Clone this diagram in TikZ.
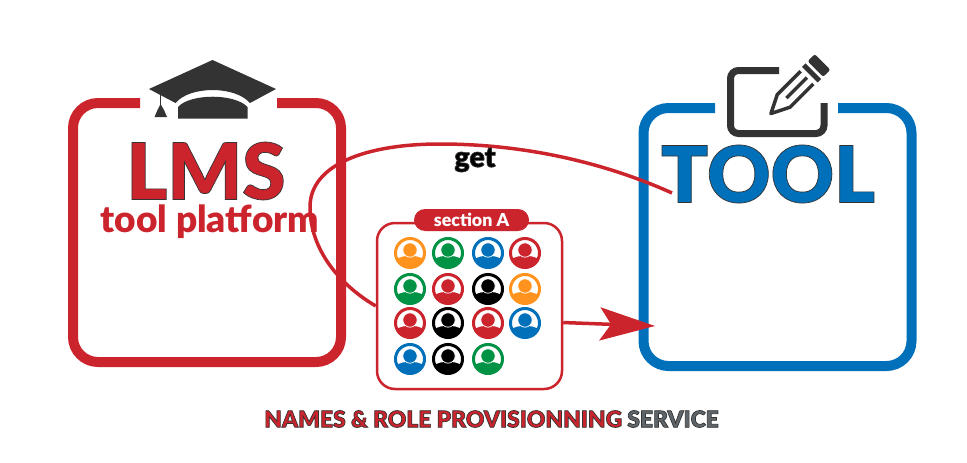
\documentclass[tikz,border=0pt]{standalone}
\usepackage{fontspec}
\setmainfont{Lato}
\newfontfamily\heavy{Lato Black}
\usetikzlibrary{arrows.meta}
\definecolor{lmsred}{HTML}{CC242D}
\definecolor{toolblue}{HTML}{0070BA}
\definecolor{iconblack}{HTML}{333333}
\definecolor{svcgray}{HTML}{5F666B}
\definecolor{pgreen}{HTML}{009245}
\definecolor{porange}{HTML}{FF931E}
\newcommand{\inked}[2]{\textcolor{#1}{\special{pdf:code q 2 Tr 0.7 w 0.2 0.2 0.2 RG}#2\special{pdf:code Q}}}
\tikzset{
  panel/.style={line width=10pt, rounded corners=25pt},
  title/.style={font=\heavy\fontsize{78}{78}\selectfont, inner sep=0pt},
  secbox/.style={draw=lmsred, line width=2.5pt, fill=white, rounded corners=18pt, minimum width=185pt, minimum height=166pt, inner sep=0pt},
  seclabel/.style={fill=lmsred, text=white, rounded corners=11pt, minimum width=115pt, minimum height=22pt, inner sep=0pt, font=\heavy\fontsize{17.8}{17.8}\selectfont},
  link/.style={draw=lmsred, line width=3.5pt},
  pics/person/.style={code={
    \draw[#1, line width=3pt, fill=white] (0,0) circle (14.5pt);
    \begin{scope}
      \clip (0,0) circle (15pt);
      \fill[#1] (-15,16) -- (-15,7) .. controls (-9,3) and (-5,3) .. (0,3) .. controls (5,3) and (9,3) .. (15,7) -- (15,16) -- cycle;
    \end{scope}
    \draw[fill=#1, draw=white, line width=0.7pt] (0,-3) circle (7.2pt);
  }},
}
\begin{document}
\begin{tikzpicture}[x=1pt, y=-1pt]
\useasboundingbox (0,0) rectangle (967,463);
% lms panel
\draw[lmsred, panel] (140,103) -- (73,103) -- (73,362) -- (341,362) -- (341,103) -- (277,103);
% tool panel
\draw[toolblue, panel] (715,108) -- (643.5,108) -- (643.5,366) -- (911.5,366) -- (911.5,108) -- (838,108);
% cap
\fill[iconblack] (212.5,60) -- (276,89) -- (250,103) .. controls (235,85.7) and (190,85.7) .. (175.5,103) -- (149,89) -- cycle;
\fill[iconblack] (178,118.5) -- (178,107) .. controls (190,93.3) and (235,93.3) .. (247.5,107) -- (247.5,118.5) -- cycle;
\draw[iconblack, line width=1.5pt] (160.5,94) -- (160.5,106);
\fill[iconblack] (160.5,104) -- (164,110) -- (167,117) -- (154.5,117) -- (157.5,110) -- cycle;
% edit icon
\draw[iconblack, line width=7pt, rounded corners=8pt] (779,70.5) -- (730.5,70.5) -- (730.5,133.5) -- (824,133.5) -- (824,103);
\begin{scope}[shift={(769.5,115)}, rotate=45]
  \draw[iconblack, line width=3.5pt, line join=round] (53,-9) -- (20,-9) -- (2,0) -- (20,9) -- (53,9);
  \draw[iconblack, line width=3.5pt] (24,0) -- (53,0);
  \fill[iconblack] (57,-11) rectangle (62,11);
  \fill[iconblack, rounded corners=2pt] (65,-11) rectangle (75,11);
\end{scope}
% titles
\node[title] (lms) at (206,171) {\inked{lmsred}{LMS}};
\node[font=\heavy\fontsize{37}{37}\selectfont, text=lmsred, inner sep=0pt] (platform) at (210,222) {tool platform};
\node[title] (tool) at (768,174) {\inked{toolblue}{TOOL}};
% section box
\node[secbox] (section) at (469.5,306) {};
\node[seclabel] (seclabel) at (471.5,220) {section A};
% people
\foreach \px/\py/\pc in {410/253/porange, 448/253/pgreen, 488/253/toolblue, 525/253/lmsred,
  410/289/pgreen, 448/289/lmsred, 488/289/black, 525/289/porange,
  410/323/lmsred, 448/323/black, 488/323/lmsred, 525/323/toolblue,
  410/359/toolblue, 448/359/black, 488/359/pgreen}
  \pic at (\px,\py) {person=\pc};
% connectors
\coordinate (toolin) at (672,193);
\coordinate (tooltip) at (655,326);
\draw[link] (toolin) .. controls (610,165) and (530,144) .. (440,144) .. controls (365,144) and (310,165) .. (310,207) .. controls (310,250) and (340,285) .. (section.west);
\draw[link, -{Stealth[length=55pt, width=33pt, inset=11pt]}] (section.-10) -- (tooltip);
\node[font=\heavy\fontsize{28.5}{28.5}\selectfont, inner sep=0pt] (get) at (475,160) {\inked{black}{get}};
\node[inner sep=0pt, font=\heavy\fontsize{22.8}{22.8}\selectfont] (service) at (491.5,419) {\inked{lmsred}{NAMES \& ROLE PROVISIONNING} \inked{svcgray}{SERVICE}};
\end{tikzpicture}
\end{document}
